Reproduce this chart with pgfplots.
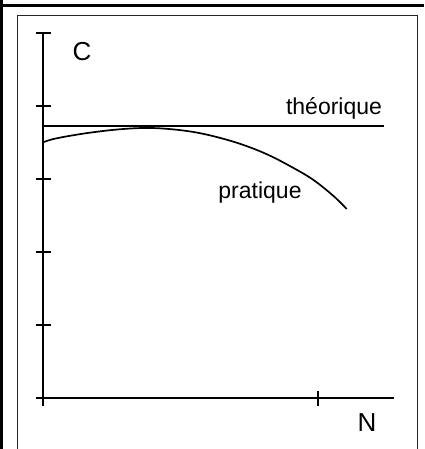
\documentclass[border=0pt]{standalone}
\usepackage{pgfplots}
\pgfplotsset{compat=1.18}
\usepackage{fontspec}
\setmainfont{Liberation Sans}

\begin{document}
\begin{tikzpicture}
\begin{axis}[
    x=1pt, y=1pt,
    xmin=0, xmax=350.5, ymin=0, ymax=365,
    axis x line=bottom, axis y line=left,
    axis line style={line width=2pt, -},
    xtick={0,274.5}, ytick={0,73,146,219,292,365},
    xticklabels={}, yticklabels={},
    tick align=center, major tick length=15pt,
    tick style={line width=2pt, black},
    clip=false,
]
% theoretical capacity: flat
\addplot[black, line width=2pt] coordinates {(0,271.5)(340.5,271.5)};
% practical capacity
\addplot[black, line width=1.7pt, smooth, tension=0.6] coordinates {
    (0.5,256)(10,259)(30,262.8)(50,265.8)(75,268.6)(100,270)(123,269.2)
    (150,266)(175,260.5)(200,253)(225,243)(250,230)(270,218)
    (290,202)(303.2,189)};
\node[font=\fontsize{26}{28}\selectfont] at (axis cs:38.5,346) {C};
\node[font=\fontsize{26}{28}\selectfont] at (axis cs:323.5,-25) {N};
\node[font=\fontsize{23}{26}\selectfont] at (axis cs:290.5,290) {théorique};
\node[font=\fontsize{23}{26}\selectfont] at (axis cs:216.5,205) {pratique};
% frames
\draw[black, line width=3pt] (axis cs:-42,398) -- (axis cs:-42,-51);
\draw[black, line width=3pt] (axis cs:-43.5,392.5) -- (axis cs:380.5,392.5);
\draw[black!85, line width=1pt] (axis cs:-25.5,-51) -- (axis cs:-25.5,382)
    -- (axis cs:373.5,382) -- (axis cs:373.5,-51);
\coordinate (bl) at (axis cs:-43.5,-51);
\coordinate (tr) at (axis cs:380.5,398);
\end{axis}
\pgfresetboundingbox
\path[use as bounding box] (bl) rectangle (tr);
\end{tikzpicture}
\end{document}
